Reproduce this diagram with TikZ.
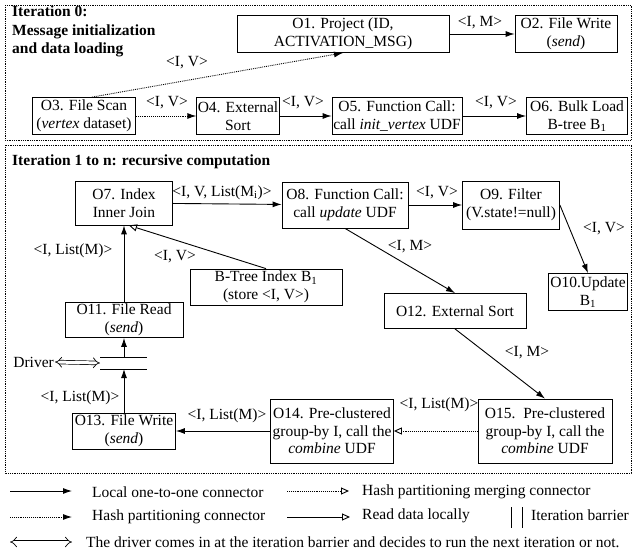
\documentclass[tikz,border=0pt]{standalone}
\usepackage{fontspec}
\setmainfont{Liberation Serif}
\usetikzlibrary{arrows.meta}

\begin{document}
\begin{tikzpicture}[x=1pt,y=-1pt,
	op_node/.style={draw,line width=0.8pt,align=center,inner sep=1pt,font=\fontsize{15.5}{17.5}\selectfont},
	lbl/.style={inner sep=1pt,font=\fontsize{15.5}{17.5}\selectfont},
	title_lbl/.style={inner sep=0pt,align=left,font=\fontsize{15.5}{18.5}\selectfont\bfseries},
	local/.style={line width=0.9pt,-{Latex[length=9pt,width=6pt]}},
	hash/.style={line width=0.9pt,densely dotted,-{Latex[length=9pt,width=6pt]}},
	merge/.style={line width=0.9pt,densely dotted,-{Triangle[open,length=8pt,width=7pt]}},
	read_local/.style={line width=0.9pt,-{Triangle[open,length=8pt,width=7pt]}},
	driver_arrow/.style={double,double distance=3pt,line width=0.7pt,{Implies}-{Implies}},
	frame_box/.style={densely dotted,line width=0.8pt}]

		\useasboundingbox (0,0) rectangle (633,552);

		% iteration 0
		\draw[frame_box] (5,5) rectangle (631,140);
		\node[title_lbl,anchor=north west] (t0) at (12,6) {Iteration 0:\\Message initialization\\and data loading};

		\node[op_node,minimum width=212,minimum height=37] (O1) at (343,34) {O1. Project (ID,\\ACTIVATION\_MSG)};
		\node[op_node,minimum width=102,minimum height=37] (O2) at (566,34) {O2. File Write\\(\textit{send})};
		\node[op_node,minimum width=103,minimum height=37] (O3) at (84,116) {O3. File Scan\\(\textit{vertex} dataset)};
		\node[op_node,minimum width=75,minimum height=37] (O4) at (238,116) {O4. External\\Sort};
		\node[op_node,minimum width=130,minimum height=37] (O5) at (397,116) {O5. Function Call:\\call \textit{init\_vertex} UDF};
		\node[op_node,minimum width=101,minimum height=37] (O6) at (577,116) {O6. Bulk Load\\B-tree B\textsubscript{1}};

		\draw[local] (O1) -- (O2);
		\draw[hash] ([xshift=8pt]O3.north) -- (O1.south);
		\draw[hash] (O3) -- (O4);
		\draw[local] (O4) -- (O5);
		\draw[local] (O5) -- (O6);

		\node[lbl] (l12) at (480,23) {<I, M>};
		\node[lbl] (l31) at (187,63) {<I, V>};
		\node[lbl] (l34) at (167,103) {<I, V>};
		\node[lbl] (l45) at (303,103) {<I, V>};
		\node[lbl] (l56) at (496,103) {<I, V>};

		% iteration 1 to n
		\draw[frame_box] (5,145) rectangle (631,473);
		\node[title_lbl,anchor=west] (t1) at (12,162) {Iteration 1 to n: recursive computation};

		\node[op_node,minimum width=97,minimum height=44] (O7) at (124,203) {O7. Index\\Inner Join};
		\node[op_node,minimum width=126,minimum height=46] (O8) at (345,205) {O8. Function Call:\\call \textit{update} UDF};
		\node[op_node,minimum width=97,minimum height=48] (O9) at (511,205) {O9. Filter\\(V.state!=null)};
		\node[op_node,minimum width=79,minimum height=37] (O10) at (588,292) {O10.Update\\B\textsubscript{1}};
		\node[op_node,minimum width=152,minimum height=36] (BT) at (266,287) {B-Tree Index B\textsubscript{1}\\(store <I, V>)};
		\node[op_node,minimum width=118,minimum height=35] (O11) at (124,320) {O11. File Read\\(\textit{send})};
		\node[op_node,minimum width=142,minimum height=35] (O12) at (455,311) {O12. External Sort};
		\node[op_node,minimum width=103,minimum height=36] (O13) at (124,431) {O13. File Write\\(\textit{send})};
		\node[op_node,minimum width=123,minimum height=64] (O14) at (332,431) {O14. Pre-clustered\\group-by I, call the\\\textit{combine} UDF};
		\node[op_node,minimum width=134,minimum height=64] (O15) at (545,431) {O15.\ \ Pre-clustered\\group-by I, call the\\\textit{combine} UDF};

		% iteration barrier
		\coordinate (bar_tl) at (100,357);
		\coordinate (bar_tr) at (147,357);
		\coordinate (bar_bl) at (100,369);
		\coordinate (bar_br) at (147,369);
		\coordinate (bar_out) at (124,357);
		\coordinate (bar_in) at (124,369);
		\coordinate (bar_mid) at (100,363);
		\draw[line width=0.9pt] (bar_tl) -- (bar_tr);
		\draw[line width=0.9pt] (bar_bl) -- (bar_br);
		\node[lbl,anchor=east] (drv) at (55,362) {Driver};

		\draw[local] (O7) -- (O8);
		\draw[local] (O8) -- (O9);
		\draw[local] (O9.east) -- (O10.north);
		\draw[local] (O8.south) -- (O12.north);
		\draw[local] (O12.south) -- (O15.north);
		\draw[merge] (O15) -- (O14);
		\draw[local] (O14) -- (O13);
		\draw[local] (O13.north) -- (bar_in);
		\draw[local] (bar_out) -- (O11.south);
		\draw[local] (O11.north) -- (O7.south);
		\draw[read_local] (BT.north) -- ([xshift=5pt]O7.south);
		\draw[driver_arrow] (drv.east) -- (bar_mid);

		\node[lbl] (l78) at (222,193) {<I, V, List(M\textsubscript{i})>};
		\node[lbl] (l89) at (437,193) {<I, V>};
		\node[lbl] (l910) at (604,229) {<I, V>};
		\node[lbl] (l812) at (410,247) {<I, M>};
		\node[lbl] (l117) at (73,251) {<I, List(M)>};
		\node[lbl] (lbt7) at (175,257) {<I, V>};
		\node[lbl] (l1215) at (527,353) {<I, M>};
		\node[lbl] (l1514) at (439,405) {<I, List(M)>};
		\node[lbl] (l1413) at (227,416) {<I, List(M)>};
		\node[lbl] (l13b) at (80,398) {<I, List(M)>};

		% legend
		\coordinate (lg1a) at (10,491);
		\coordinate (lg1b) at (72,491);
		\coordinate (lg2a) at (287,491);
		\coordinate (lg2b) at (349,491);
		\coordinate (lg3a) at (10,517);
		\coordinate (lg3b) at (72,517);
		\coordinate (lg4a) at (287,517);
		\coordinate (lg4b) at (350,517);
		\coordinate (lg5a) at (10,542);
		\coordinate (lg5b) at (72,542);
		\draw[local] (lg1a) -- (lg1b);
		\draw[merge] (lg2a) -- (lg2b);
		\draw[hash] (lg3a) -- (lg3b);
		\draw[read_local] (lg4a) -- (lg4b);
		\draw[driver_arrow] (lg5a) -- (lg5b);
		\draw[line width=0.9pt] (511,507) -- (511,528);
		\draw[line width=0.9pt] (522,507) -- (522,528);

		\node[lbl,anchor=west] (lt1) at (91,492) {Local one-to-one connector};
		\node[lbl,anchor=west] (lt2) at (361,492) {Hash partitioning merging connector};
		\node[lbl,anchor=west] (lt3) at (91,517) {Hash partitioning connector};
		\node[lbl,anchor=west] (lt4) at (361,516) {Read data locally};
		\node[lbl,anchor=west] (lt5) at (530,515) {Iteration barrier};
		\node[lbl,anchor=west] (lt6) at (85,542) {The driver comes in at the iteration barrier and decides to run the next iteration or not.};
\end{tikzpicture}
\end{document}
